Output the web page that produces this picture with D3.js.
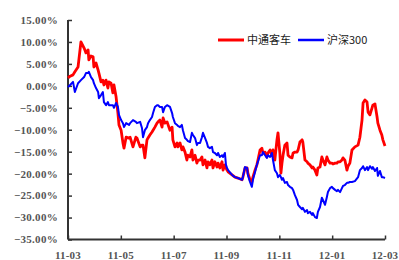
<!DOCTYPE html>
<html><head><meta charset="utf-8">
<script src="https://cdn.jsdelivr.net/npm/d3@7"></script>
<style>html,body{margin:0;padding:0;background:#fff;}svg{display:block;}</style>
</head><body>
<svg id="c" width="399" height="260"></svg>
<script>
// month offsets from 2011-03
const months = [0.00,0.08,0.19,0.26,0.38,0.49,0.61,0.68,0.76,0.79,0.87,0.95,0.98,1.06,1.14,1.17,1.25,1.32,1.36,1.44,1.51,1.55,1.63,1.70,1.74,1.82,1.89,1.93,2.01,2.08,2.12,2.20,2.31,2.35,2.46,2.57,2.61,2.73,2.80,2.84,2.91,2.99,3.03,3.10,3.18,3.22,3.29,3.37,3.41,3.48,3.56,3.60,3.67,3.75,3.86,3.94,3.97,4.05,4.13,4.16,4.24,4.31,4.35,4.43,4.50,4.54,4.62,4.69,4.73,4.81,4.88,4.92,5.00,5.07,5.11,5.19,5.26,5.30,5.37,5.45,5.49,5.56,5.64,5.68,5.75,5.83,5.87,5.94,5.98,6.02,6.06,6.21,6.32,6.43,6.59,6.62,6.70,6.78,6.81,6.89,6.96,7.00,7.08,7.15,7.19,7.27,7.34,7.38,7.46,7.53,7.57,7.65,7.72,7.76,7.83,7.91,7.95,8.02,8.06,8.10,8.14,8.21,8.29,8.33,8.40,8.48,8.52,8.59,8.67,8.71,8.78,8.86,8.89,8.97,9.05,9.08,9.16,9.24,9.27,9.35,9.42,9.46,9.54,9.61,9.65,9.73,9.80,9.84,9.92,9.99,10.03,10.11,10.18,10.22,10.30,10.37,10.41,10.48,10.56,10.60,10.67,10.75,10.86,10.98,11.05,11.13,11.17,11.24,11.32,11.36,11.43,11.51,11.54,11.62,11.70,11.73,11.81,11.88,11.92,12.00];
const zhongtong = [1.8,2.2,2.5,3.2,4.3,10.0,8.6,7.5,8.2,5.9,6.8,6.6,4.3,5.2,3.6,2.9,0.9,1.3,0.2,1.3,-0.5,0.9,0.6,-1.6,0.2,-2.5,-6.2,-8.9,-10.1,-13.0,-14.2,-11.7,-11.9,-11.7,-13.9,-11.7,-11.9,-13.9,-13.5,-13.5,-16.4,-12.3,-11.9,-11.2,-10.5,-10.1,-9.4,-8.5,-8.2,-7.8,-9.4,-7.3,-8.5,-8.2,-10.1,-9.4,-12.3,-13.9,-13.0,-13.9,-13.0,-14.6,-13.9,-15.1,-16.9,-15.8,-16.2,-14.6,-16.9,-15.8,-17.6,-16.9,-16.9,-16.2,-18.0,-16.9,-18.7,-17.3,-18.0,-16.9,-18.7,-17.3,-18.5,-17.6,-18.7,-17.3,-19.2,-18.0,-18.7,-19.2,-19.6,-20.3,-20.8,-21.0,-21.4,-20.8,-18.7,-18.7,-19.9,-21.4,-21.9,-20.8,-19.2,-18.0,-16.9,-14.6,-14.2,-15.3,-15.1,-16.2,-15.3,-14.6,-15.8,-14.6,-16.9,-12.3,-10.7,-15.3,-19.9,-17.6,-15.8,-13.5,-13.0,-15.8,-16.2,-16.4,-15.3,-15.1,-15.1,-14.6,-12.8,-12.3,-12.8,-16.9,-17.3,-17.6,-18.0,-18.7,-18.5,-19.2,-20.3,-18.7,-18.5,-16.2,-16.9,-18.0,-16.2,-16.9,-17.6,-17.6,-17.8,-17.6,-17.6,-17.3,-17.3,-16.9,-16.4,-16.9,-19.2,-18.3,-17.6,-14.6,-13.9,-13.5,-11.7,-7.8,-3.9,-3.2,-3.7,-6.0,-6.6,-5.0,-4.4,-4.1,-7.1,-8.5,-10.1,-11.2,-12.3,-13.7];
const hs300 = [-0.3,0.2,0.9,-1.4,0.6,1.3,2.0,2.9,2.9,3.2,2.0,1.3,0.6,-0.5,-1.4,-2.8,-2.1,-1.4,-3.7,-4.4,-3.7,-4.4,-4.4,-4.4,-5.0,-3.9,-4.8,-6.6,-7.8,-8.5,-9.4,-8.5,-8.9,-8.5,-7.8,-8.2,-8.5,-8.2,-9.6,-11.7,-10.1,-9.4,-8.5,-7.8,-7.1,-6.2,-4.8,-4.4,-4.4,-4.8,-4.8,-6.0,-4.8,-4.4,-4.8,-6.2,-7.1,-8.5,-8.9,-9.1,-9.4,-8.9,-10.1,-11.9,-12.3,-12.6,-12.8,-10.7,-11.2,-11.9,-13.5,-13.0,-13.0,-11.7,-10.7,-11.9,-13.0,-13.9,-14.2,-13.9,-15.1,-15.3,-15.8,-15.3,-16.2,-15.8,-16.2,-15.3,-18.0,-18.7,-19.2,-20.3,-20.8,-21.0,-21.4,-20.8,-18.5,-18.7,-20.3,-21.9,-23.0,-21.4,-19.6,-18.0,-17.3,-15.8,-15.8,-15.1,-15.8,-16.4,-15.8,-16.2,-15.3,-16.9,-19.2,-19.9,-20.8,-20.3,-20.8,-21.4,-21.0,-22.1,-21.9,-22.6,-23.0,-23.3,-23.7,-24.9,-26.0,-27.1,-27.6,-28.1,-27.8,-28.7,-28.3,-29.0,-28.7,-29.4,-29.0,-29.9,-30.1,-28.7,-27.6,-25.5,-26.0,-27.1,-25.3,-24.2,-23.3,-23.0,-23.3,-23.7,-24.0,-23.7,-24.2,-23.3,-22.8,-22.6,-22.1,-22.1,-21.9,-21.9,-21.7,-20.8,-19.2,-18.7,-18.3,-19.2,-18.5,-19.2,-18.3,-18.9,-18.5,-19.4,-18.7,-20.5,-19.4,-20.8,-20.8,-21.0];
const seriesNames = ["中通客车","沪深300"];
const seriesColors = ["#ff0000","#0000ff"];
const xTickPos = [0,2,4,6,8,10,12];
const xTickLabels = ["11-03","11-05","11-07","11-09","11-11","12-01","12-03"];
const yTicks = [15,10,5,0,-5,-10,-15,-20,-25,-30,-35];

const svg = d3.select("#c");
const L = 68, R = 385, T = 20, B = 239.5;
const x = d3.scaleLinear().domain([0,12]).range([L,R]);
const y = d3.scaleLinear().domain([-35,15]).range([B,T]);

const fmt = v => d3.format(".2f")(v) + "%";
const font = "'Liberation Serif','Times New Roman',serif";

// y axis
const ya = svg.append("g").attr("transform",`translate(${L},0)`)
  .call(d3.axisRight(y).tickValues(yTicks).tickSize(4).tickFormat(""));
ya.select(".domain").attr("stroke","#333").attr("stroke-width",2).attr("d",`M0,${T}V${B}`);
ya.selectAll(".tick line").attr("stroke","#333").attr("stroke-width",1.5);
svg.append("g").selectAll("text").data(yTicks).join("text")
  .attr("x",58).attr("y",d=>y(d)).attr("dy","0.35em")
  .attr("text-anchor","end").attr("font-family",font).attr("font-size",11)
  .attr("font-weight","bold").attr("letter-spacing",0.3).attr("fill","#555").text(fmt);

// x axis
const xa = svg.append("g").attr("transform",`translate(0,${B})`)
  .call(d3.axisTop(x).tickValues(xTickPos).tickSize(4).tickFormat(""));
xa.select(".domain").attr("stroke","#333").attr("stroke-width",2).attr("d",`M${L},0H${R}`);
xa.selectAll(".tick line").attr("stroke","#333").attr("stroke-width",1.5);
svg.append("g").selectAll("text").data(xTickPos).join("text")
  .attr("x",d=>x(d)).attr("y",259).attr("text-anchor","middle")
  .attr("font-family",font).attr("font-size",11).attr("font-weight","bold").attr("letter-spacing",0.2)
  .attr("fill","#555").text((d,i)=>xTickLabels[i]);

// lines
const line = d3.line().x((d,i)=>x(months[i])).y(d=>y(d));
svg.append("path").datum(zhongtong).attr("d",line).attr("fill","none")
  .attr("stroke",seriesColors[0]).attr("stroke-width",2.8).attr("stroke-linejoin","round");
svg.append("path").datum(hs300).attr("d",line).attr("fill","none")
  .attr("stroke",seriesColors[1]).attr("stroke-width",2).attr("stroke-linejoin","round");

// legend
const lg = svg.append("g");
const legX = [218, 298];
seriesNames.forEach((n,i)=>{
  lg.append("line").attr("x1",legX[i]).attr("x2",legX[i]+26).attr("y1",40).attr("y2",40)
    .attr("stroke",seriesColors[i]).attr("stroke-width",i===0?3:2.5);
  lg.append("text").attr("x",legX[i]+29).attr("y",40).attr("dy","0.35em")
    .attr("font-family","'Noto Sans CJK SC',sans-serif").attr("font-size",11)
    .attr("fill","#222").text(n);
});
</script>
</body></html>
